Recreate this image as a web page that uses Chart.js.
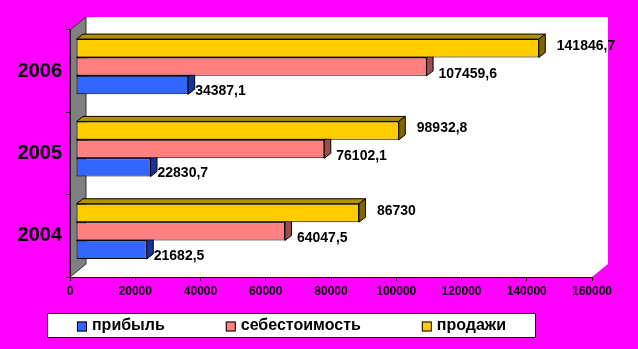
<!DOCTYPE html>
<html>
<head>
<meta charset="utf-8">
<script src="https://cdn.jsdelivr.net/npm/chart.js@4.4.1/dist/chart.umd.min.js"></script>
<style>
  html, body { margin: 0; padding: 0; background: #ff00ff; }
  canvas { display: block; }
</style>
</head>
<body>
<canvas id="salesChart" width="638" height="349"></canvas>
<script>
// Data (years from bottom to top, as in the original)
const years = ['2004', '2005', '2006'];
const profit = [21682.5, 22830.7, 34387.1];
const cost = [64047.5, 76102.1, 107459.6];
const sales = [86730, 98932.8, 141846.7];
const seriesNames = ['прибыль', 'себестоимость', 'продажи'];
const xMin = 0, xMax = 160000, xStep = 20000;

const FONT = '"Liberation Sans", Arial, sans-serif';
const WALL = { dx: 16, dy: -13 };   // depth of the 3d box
const SHIFT = { dx: 6, dy: -4.5 };  // bars sit a little inside the box
const BAR = { dx: 6.5, dy: -5 };    // depth of each bar

// one entry per series: front, top and side face colours, label nudges
const looks = [
  { face: '#3366ff', top: '#2447b3', side: '#1a3399', gap: 7, dy: 6 },
  { face: '#ff8080', top: '#b35a5a', side: '#994d4d', gap: 12, dy: 7 },
  { face: '#ffcc00', top: '#b39000', side: '#806600', gap: 18, dy: -2 }
];
const series = [profit, cost, sales];

const rev = arr => arr.slice().reverse();
// Chart.js puts dataset 0 at the top of a group, Excel puts the first series at the bottom
const datasets = series.map((vals, i) => ({
  label: seriesNames[i],
  data: rev(vals),
  backgroundColor: looks[i].face,
  borderColor: '#000',
  borderWidth: 1,
  borderSkipped: false,
  look: i
})).reverse();

const fmt = v => String(v).replace('.', ',');

const box3d = {
  id: 'box3d',
  beforeDraw(chart) {
    const { ctx, chartArea: a } = chart;
    ctx.save();
    // back wall + floor
    ctx.fillStyle = '#fff';
    ctx.fillRect(a.left + WALL.dx, a.top + WALL.dy, a.right - a.left, a.bottom - a.top);
    ctx.beginPath();
    ctx.moveTo(a.left, a.bottom);
    ctx.lineTo(a.right, a.bottom);
    ctx.lineTo(a.right + WALL.dx, a.bottom + WALL.dy);
    ctx.lineTo(a.left + WALL.dx, a.bottom + WALL.dy);
    ctx.closePath();
    ctx.fill();
    // grey side wall
    ctx.beginPath();
    ctx.moveTo(a.left, a.top);
    ctx.lineTo(a.left + WALL.dx, a.top + WALL.dy);
    ctx.lineTo(a.left + WALL.dx, a.bottom + WALL.dy);
    ctx.lineTo(a.left, a.bottom);
    ctx.closePath();
    ctx.fillStyle = '#808080';
    ctx.fill();
    ctx.strokeStyle = '#333';
    ctx.lineWidth = 1;
    ctx.stroke();
    ctx.restore();
  },
  beforeDatasetsDraw(chart) {
    chart.ctx.save();
    chart.ctx.translate(SHIFT.dx, SHIFT.dy);
  },
  afterDatasetDraw(chart, args) {
    const ctx = chart.ctx;
    const lk = looks[chart.data.datasets[args.index].look];
    ctx.save();
    ctx.strokeStyle = '#000';
    ctx.lineWidth = 1;
    args.meta.data.forEach(el => {
      const { x, y, base, height } = el.getProps(['x', 'y', 'base', 'height'], true);
      const l = Math.min(x, base), r = Math.max(x, base);
      const t = y - height / 2, b = y + height / 2;
      // top face
      ctx.beginPath();
      ctx.moveTo(l, t);
      ctx.lineTo(l + BAR.dx, t + BAR.dy);
      ctx.lineTo(r + BAR.dx, t + BAR.dy);
      ctx.lineTo(r, t);
      ctx.closePath();
      ctx.fillStyle = lk.top;
      ctx.fill();
      ctx.stroke();
      // right face
      ctx.beginPath();
      ctx.moveTo(r, t);
      ctx.lineTo(r + BAR.dx, t + BAR.dy);
      ctx.lineTo(r + BAR.dx, b + BAR.dy);
      ctx.lineTo(r, b);
      ctx.closePath();
      ctx.fillStyle = lk.side;
      ctx.fill();
      ctx.stroke();
    });
    ctx.restore();
  },
  afterDatasetsDraw(chart) {
    const ctx = chart.ctx;
    ctx.font = 'bold 14px ' + FONT;
    ctx.fillStyle = '#000';
    ctx.textAlign = 'left';
    ctx.textBaseline = 'middle';
    chart.data.datasets.forEach((ds, i) => {
      const lk = looks[ds.look];
      chart.getDatasetMeta(i).data.forEach((el, j) => {
        ctx.fillText(fmt(ds.data[j]), el.x + lk.gap, el.y + lk.dy);
      });
    });
    ctx.restore();
  },
  afterDraw(chart) {
    // legend box under the axis
    const ctx = chart.ctx;
    const lx = 47, ly = 313, lw = 489, lh = 25;
    ctx.save();
    ctx.fillStyle = '#fff';
    ctx.fillRect(lx, ly, lw, lh);
    ctx.strokeStyle = '#000';
    ctx.lineWidth = 1;
    ctx.strokeRect(lx + 0.5, ly + 0.5, lw - 1, lh - 1);
    ctx.font = 'bold 16px ' + FONT;
    const sq = 10, gap = 5, spacing = 61;
    const widths = seriesNames.map(n => sq + gap + ctx.measureText(n).width);
    const total = widths.reduce((s, w) => s + w, 0) + spacing * (widths.length - 1);
    let x = lx + (lw - total) / 2;
    const cy = ly + lh / 2;
    seriesNames.forEach((n, i) => {
      ctx.fillStyle = looks[i].face;
      ctx.fillRect(x, cy - sq / 2 + 1, sq, sq);
      ctx.strokeRect(x + 0.5, cy - sq / 2 + 1.5, sq - 1, sq - 1);
      ctx.fillStyle = '#000';
      ctx.textBaseline = 'middle';
      ctx.fillText(n, x + sq + gap, cy);
      x += widths[i] + spacing;
    });
    ctx.restore();
  }
};

const ctx = document.getElementById('salesChart').getContext('2d');
new Chart(ctx, {
  type: 'bar',
  data: { labels: rev(years), datasets: datasets },
  options: {
    indexAxis: 'y',
    responsive: false,
    animation: false,
    devicePixelRatio: 1,
    layout: { padding: { top: 30, left: 0, right: 46, bottom: 50 } },
    datasets: { bar: { categoryPercentage: 0.67, barPercentage: 1 } },
    plugins: {
      legend: { display: false },
      tooltip: { enabled: false }
    },
    scales: {
      x: {
        min: xMin,
        max: xMax,
        ticks: {
          stepSize: xStep,
          callback: v => String(v),
          color: '#000',
          font: { family: FONT, size: 12, weight: 'bold' },
          padding: 3,
          maxRotation: 0
        },
        grid: { drawOnChartArea: false, tickLength: 4, color: '#000' },
        border: { color: '#000', width: 1 },
        afterFit: s => { s.height = 22; }
      },
      y: {
        ticks: {
          color: '#000',
          font: { family: FONT, size: 20, weight: 'bold' },
          padding: 4
        },
        grid: { drawOnChartArea: false, tickLength: 4, color: '#000', offset: true },
        border: { color: '#000', width: 1 },
        afterFit: s => { s.width = 70; }
      }
    }
  },
  plugins: [box3d]
});
</script>
</body>
</html>
